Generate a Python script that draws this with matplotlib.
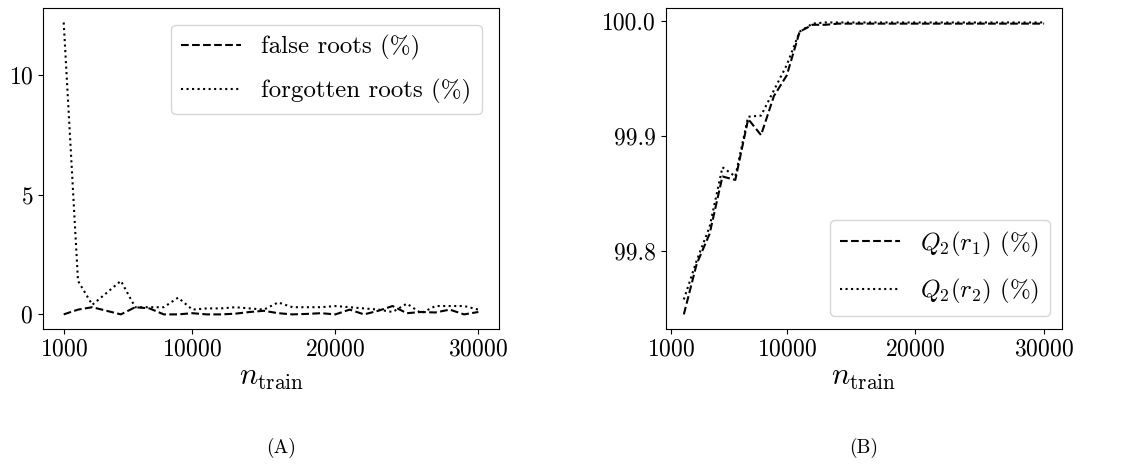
import matplotlib
matplotlib.use("Agg")
import matplotlib.pyplot as plt
from matplotlib.ticker import FormatStrFormatter

plt.rcParams['font.family'] = 'cmr10'
plt.rcParams['mathtext.fontset'] = 'cm'
plt.rcParams['axes.formatter.use_mathtext'] = True

# training set sizes
n_left = list(range(1000, 30001, 1000))
n_right = list(range(2000, 30001, 1000))

false_roots = [0.0, 0.2, 0.3, 0.15, 0.0, 0.3, 0.25, 0.0, 0.0, 0.05,
               0.0, 0.0, 0.03, 0.1, 0.15, 0.05, 0.0, 0.02, 0.05, 0.0,
               0.2, 0.0, 0.15, 0.35, 0.05, 0.1, 0.08, 0.2, 0.0, 0.1]
forgotten_roots = [12.2, 1.4, 0.4, 0.9, 1.4, 0.3, 0.3, 0.3, 0.7, 0.2,
                   0.25, 0.25, 0.3, 0.25, 0.2, 0.5, 0.3, 0.3, 0.3, 0.35,
                   0.3, 0.25, 0.2, 0.1, 0.45, 0.05, 0.35, 0.35, 0.35, 0.2]

q2_r1 = [99.745, 99.789, 99.815, 99.865, 99.862, 99.915, 99.901, 99.935, 99.953, 99.991,
         99.997, 99.997, 99.998, 99.998, 99.998, 99.998, 99.998, 99.998, 99.998, 99.998,
         99.998, 99.998, 99.998, 99.998, 99.998, 99.998, 99.998, 99.998, 99.998]
q2_r2 = [99.758, 99.792, 99.821, 99.873, 99.865, 99.917, 99.918, 99.940, 99.962, 99.991,
         99.998, 99.999, 99.999, 99.999, 99.999, 99.999, 99.999, 99.999, 99.999, 99.999,
         99.999, 99.999, 99.999, 99.999, 99.999, 99.999, 99.999, 99.999, 99.999]

xticks = [1000, 10000, 20000, 30000]

fig = plt.figure(figsize=(11.46, 4.75), dpi=100)
ax1 = fig.add_axes([0.0375, 0.3074, 0.398, 0.676])
ax2 = fig.add_axes([0.581, 0.3074, 0.3458, 0.676])

fs = 17

ax1.plot(n_left, false_roots, '--', color='black', lw=1.5, label='false roots (%)')
ax1.plot(n_left, forgotten_roots, ':', color='black', lw=1.5, label='forgotten roots (%)')
ax1.set_xticks(xticks)
ax1.set_yticks([0, 5, 10])
ax1.legend(loc='upper right', fontsize=18, labelspacing=0.75,
           handlelength=2.4, borderaxespad=0.7)

ax2.plot(n_right, q2_r1, '--', color='black', lw=1.5, label=r'$Q_2(r_1)$ (%)')
ax2.plot(n_right, q2_r2, ':', color='black', lw=1.5, label=r'$Q_2(r_2)$ (%)')
ax2.set_xticks(xticks)
ax2.set_yticks([99.8, 99.9, 100.0])
ax2.yaxis.set_major_formatter(FormatStrFormatter('%.1f'))
ax2.legend(loc='lower right', fontsize=18, labelspacing=0.75,
           handlelength=2.4, borderaxespad=0.5)

for ax in (ax1, ax2):
    ax.tick_params(labelsize=fs)
    ax.set_xlabel(r'$n_{\mathrm{train}}$', fontsize=22, labelpad=3)

fig.text(0.245, 0.058, '(A)', ha='center', va='center', fontsize=14)
fig.text(0.754, 0.058, '(B)', ha='center', va='center', fontsize=14)

fig.savefig('out.png', dpi=100)
